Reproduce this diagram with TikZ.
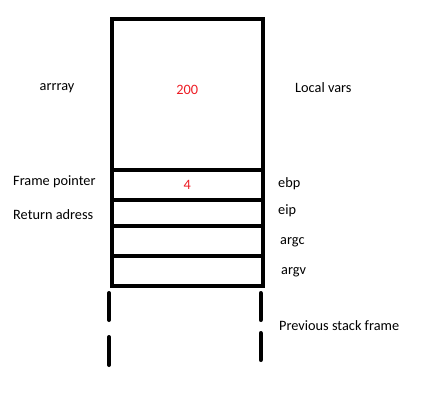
\documentclass[tikz,border=0pt]{standalone}
\usepackage{fontspec}
\setmainfont{Carlito}
\usetikzlibrary{positioning}
\definecolor{Val}{HTML}{ED1C24}

\begin{document}
\begin{tikzpicture}[x=1pt,y=-1pt,font=\fontsize{14.3}{16}\selectfont,
    cell/.style={draw,line width=4pt,minimum width=150.7pt,inner sep=0pt,anchor=north west},
    lbl/.style={anchor=west,inner sep=0pt}]
        \useasboundingbox (0,0) rectangle (430,414);
        \node[cell,minimum height=150.2pt] (locals) at (110,17.3) {};
        \node[cell,minimum height=30pt] (fp) at (110,167.5) {};
        \node[cell,minimum height=26.5pt] (ret) at (110,197.5) {};
        \node[cell,minimum height=29.5pt] (argc) at (110,224) {};
        \node[cell,minimum height=30.5pt] (argv) at (110,253.5) {};
        \node[text=Val] (v200) at (locals.center) [yshift=4pt] {200};
        \node[text=Val] (v4) at (fp.center) {4};
        \node (arr) at (57,88) {arrray};
        \node[lbl] (fpl) at (13,182) {Frame pointer};
        \node[lbl] (retl) at (13,215) {Return adress};
        \node[lbl] (loc) at (295,88) {Local vars};
        \node[lbl] (ebp) at (278,184) {ebp};
        \node[lbl] (eip) at (278,211) {eip};
        \node[lbl] (argcl) at (280,242) {argc};
        \node[lbl] (argvl) at (281,272) {argv};
        \node[lbl] (prev) at (279,326) {Previous stack frame};
        \draw[line width=4pt,line cap=round] (109,293) -- (109,320) (109,337) -- (109,365)
          (260.7,293) -- (260.7,320) (260.7,333) -- (260.7,360);
      \end{tikzpicture}
\end{document}
